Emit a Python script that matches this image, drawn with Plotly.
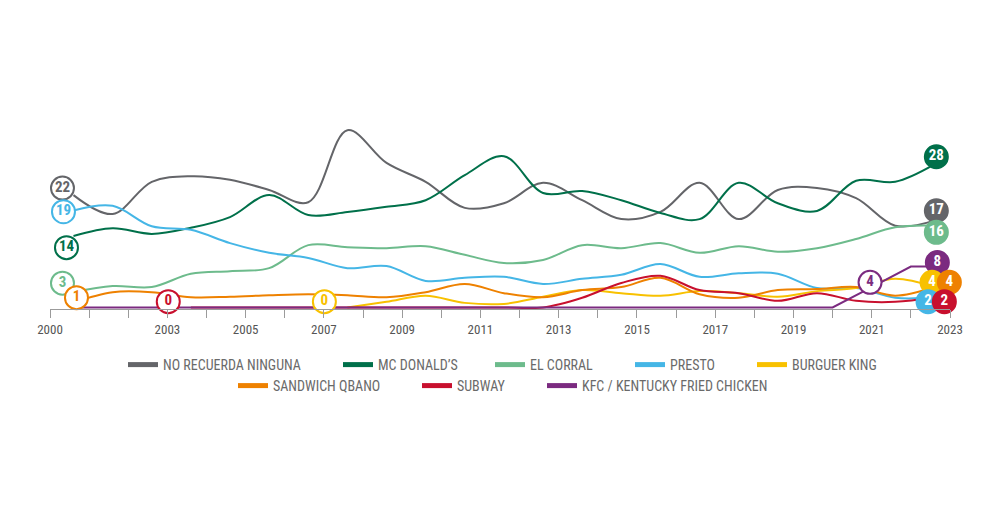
import plotly.graph_objects as go

# ---------------- data ----------------
years = [2000.6, 2001.6, 2002.6, 2003.6, 2004.6, 2005.6, 2006.6, 2007.6, 2008.6, 2009.6,
         2010.6, 2011.6, 2012.6, 2013.6, 2014.6, 2015.6, 2016.6, 2017.6, 2018.6, 2019.6,
         2020.6, 2021.6, 2022.6]

no_recuerda = [22, 18.3, 24.6, 25.7, 25.0, 23.0, 20.6, 34.7, 28.3, 24.6, 19.5, 20.4, 24.4,
               21.0, 17.3, 18.7, 24.4, 17.3, 23.0, 23.4, 21.4, 16.0, 17]
mc_donalds = [14, 15.5, 14.4, 15.6, 17.7, 22.0, 18.1, 18.7, 19.7, 21.0, 25.9, 29.6, 22.4,
              22.8, 21.0, 18.5, 17.3, 24.4, 20.4, 18.9, 24.8, 24.6, 28]
el_corral = [3, 4.2, 4.0, 6.6, 7.1, 7.7, 12.2, 11.8, 11.6, 12.0, 10.3, 8.7, 9.3,
             12.2, 11.6, 12.6, 10.7, 12.0, 10.9, 11.6, 13.4, 15.7, 16]
presto = [19, 19.9, 15.9, 15.2, 12.6, 10.7, 9.7, 7.7, 8.1, 5.2, 5.8, 6.0, 4.6,
          5.6, 6.4, 8.5, 6.0, 6.7, 6.6, 3.8, 3.8, 1.9, 2]
burguer_king = [None, None, None, None, None, None, None, 0, 1.1, 2.3, 0.9, 0.7, 2.1,
                3.4, 2.8, 2.3, 3.2, 2.8, 2.1, 3.2, 3.8, 5.6, 4]
sandwich_qbano = [1, 3.0, 3.0, 2.0, 2.1, 2.4, 2.6, 2.4, 2.0, 3.0, 4.6, 2.8, 2.0,
                  3.4, 4.0, 5.8, 2.6, 1.9, 3.4, 3.6, 4.0, 2.3, 4]
subway = [None, None, None, 0, 0, 0, 0, 0, 0, 0, 0, 0, 0,
          1.9, 4.8, 6.2, 3.4, 2.8, 1.3, 2.8, 1.3, 1.1, 2]
kfc_years = [2000.6, 2020.0, 2021.0, 2022.0, 2022.6]
kfc = [0, 0, 4, 8, 8]

series_names = ["NO RECUERDA NINGUNA", "MC DONALD\u2019S", "EL CORRAL", "PRESTO",
                "BURGUER KING", "SANDWICH QBANO", "SUBWAY", "KFC / KENTUCKY FRIED CHICKEN"]

tick_years = list(range(2000, 2024))
labeled_years = [2000, 2003, 2005, 2007, 2009, 2011, 2013, 2015, 2017, 2019, 2021, 2023]

# ---------------- style ----------------
colors = ["#646569", "#00704a", "#6dbb8c", "#45b6e6", "#f8c100", "#ee8100", "#c8102e", "#7b2b80"]
FONT = "Liberation Sans Narrow, Roboto Condensed, Roboto, sans-serif"
W, H = 1000, 530
ML, MR, MT, MB = 50, 50, 120, 221
YR = [-0.3, 36.7]
XR = [2000, 2023]
px_per_year = (W - ML - MR) / (XR[1] - XR[0])
px_per_unit = (H - MT - MB) / (YR[1] - YR[0])

xs_all = [years] * 7 + [kfc_years]
ys_all = [no_recuerda, mc_donalds, el_corral, presto, burguer_king, sandwich_qbano, subway, kfc]
shapes = ["spline"] * 7 + ["linear"]

# label specs: (series index, point index, hollow?, dx px, dy px upward)
labels = [
    (0, 0, True, -11, 7), (3, 0, True, -10, -1.3), (1, 0, True, -7, -11.7),
    (2, 0, True, -11, 9), (5, 0, True, 3, 4.7), (6, 3, True, -22.6, 5.8),
    (4, 7, True, -23, 5.8), (7, 2, True, -1.7, 4.7),
    (0, -1, False, 2, 9.9), (2, -1, False, 2, -6.6), (1, -1, False, 2, 7.7),
    (7, -1, False, 3, 4.1), (4, -1, False, -2.3, 4.7), (5, -1, False, 15, 4.7),
    (3, -1, False, -6.3, -4.4), (6, -1, False, 10, -4.4),
]

# legend entry placement (text left edge px, row centre px)
legend_pos = [(165, 365), (380, 365), (532, 365), (672, 365), (794, 365),
              (275, 386), (459, 386), (584, 386)]

fig = go.Figure()

for i in range(8):
    fig.add_trace(go.Scatter(
        x=xs_all[i], y=ys_all[i], mode="lines", name=series_names[i],
        line=dict(color=colors[i], width=2, shape=shapes[i], smoothing=1),
        showlegend=False, hoverinfo="skip"))

for (si, pi, hollow, dx, dy) in labels:
    xv = xs_all[si][pi]
    yv = ys_all[si][pi]
    txt = str(int(round(yv)))
    fig.add_trace(go.Scatter(
        x=[xv + dx / px_per_year], y=[yv + dy / px_per_unit],
        mode="markers+text", text=[txt], textposition="middle center",
        marker=dict(size=23, color="white" if hollow else colors[si],
                    line=dict(color=colors[si], width=2)),
        textfont=dict(family=FONT, size=15, weight="bold",
                      color=colors[si] if hollow else "white"),
        cliponaxis=False, showlegend=False, hoverinfo="skip"))

legends = {}
for i in range(8):
    key = "legend" if i == 0 else f"legend{i + 1}"
    fig.add_trace(go.Scatter(
        x=[None], y=[None], mode="lines", name=series_names[i],
        line=dict(color=colors[i], width=5), legend=key))
    tx, ty = legend_pos[i]
    legends[key] = dict(orientation="h", xref="container", yref="container",
                        x=(tx - 42) / W, y=1 - ty / H,
                        xanchor="left", yanchor="middle",
                        font=dict(family=FONT, size=14, color="#6a6a6a"),
                        bgcolor="rgba(0,0,0,0)", itemclick=False, itemdoubleclick=False)

fig.update_layout(
    width=W, height=H,
    margin=dict(l=ML, r=MR, t=MT, b=MB),
    paper_bgcolor="white", plot_bgcolor="white",
    hovermode=False,
    xaxis=dict(range=XR, showgrid=False, zeroline=False, showline=True,
               linecolor="#9b9b9b", linewidth=1, ticks="outside", ticklen=8,
               tickcolor="#9b9b9b", tickwidth=1,
               tickvals=tick_years,
               ticktext=[str(y) if y in labeled_years else "" for y in tick_years],
               tickfont=dict(family=FONT, size=13, color="#555555")),
    yaxis=dict(range=YR, visible=False),
    **legends,
)

fig.write_html("out.html", config={"displayModeBar": False},
               post_script="document.body.style.margin='0px';")
